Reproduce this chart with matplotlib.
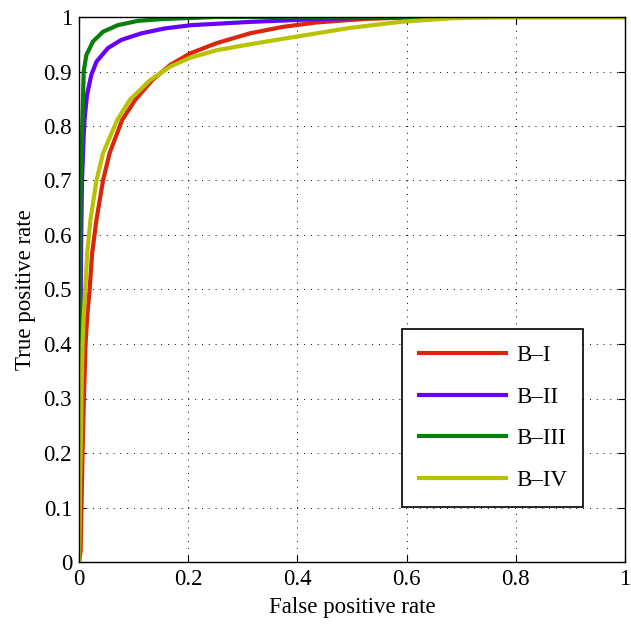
import numpy as np
import matplotlib
matplotlib.use("Agg")
import matplotlib.pyplot as plt
import matplotlib.ticker as ticker

plt.rcParams['font.family'] = ['Liberation Serif', 'DejaVu Serif']

LABELS = ["B\u2013I", "B\u2013II", "B\u2013III", "B\u2013IV"]
COLORS = ["#d9260c", "#6600ff", "#07800a", "#b8c200"]

# ROC points (false positive rate, true positive rate)
fpr_b1 = [0.0, 0.003, 0.0045, 0.0065, 0.009, 0.012, 0.015, 0.0195, 0.024, 0.032, 0.044, 0.056,
          0.079, 0.103, 0.134, 0.167, 0.203, 0.252, 0.313, 0.374, 0.435, 0.496, 0.527, 0.600,
          0.700, 1.0]
tpr_b1 = [0.0, 0.02, 0.10, 0.20, 0.30, 0.40, 0.45, 0.50, 0.566, 0.628, 0.700, 0.750,
          0.811, 0.848, 0.884, 0.912, 0.933, 0.952, 0.970, 0.982, 0.990, 0.9945, 0.9965, 0.999,
          1.0, 1.0]

fpr_b2 = [0.0, 0.001, 0.002, 0.003, 0.0037, 0.0055, 0.0086, 0.0104, 0.0147, 0.0226, 0.032,
          0.053, 0.0775, 0.114, 0.157, 0.205, 0.313, 0.435, 0.550, 0.650, 1.0]
tpr_b2 = [0.0, 0.20, 0.35, 0.45, 0.566, 0.700, 0.783, 0.815, 0.857, 0.894, 0.918,
          0.943, 0.958, 0.970, 0.979, 0.985, 0.991, 0.996, 0.999, 1.0, 1.0]

fpr_b3 = [0.0, 0.001, 0.002, 0.003, 0.0055, 0.0086, 0.0134, 0.0256, 0.044, 0.071, 0.108,
          0.150, 0.250, 1.0]
tpr_b3 = [0.0, 0.30, 0.55, 0.70, 0.783, 0.900, 0.930, 0.955, 0.973, 0.985, 0.993,
          0.996, 1.0, 1.0]

fpr_b4 = [0.0, 0.001, 0.002, 0.003, 0.0045, 0.0065, 0.0086, 0.0116, 0.015, 0.021, 0.032,
          0.044, 0.070, 0.093, 0.130, 0.167, 0.203, 0.252, 0.313, 0.374, 0.435, 0.496, 0.588,
          0.679, 0.770, 1.0]
tpr_b4 = [0.0, 0.04, 0.15, 0.20, 0.30, 0.40, 0.45, 0.50, 0.566, 0.628, 0.700,
          0.750, 0.811, 0.848, 0.884, 0.909, 0.925, 0.939, 0.950, 0.960, 0.970, 0.980, 0.991,
          0.9975, 1.0, 1.0]

curves = [(fpr_b1, tpr_b1), (fpr_b2, tpr_b2), (fpr_b3, tpr_b3), (fpr_b4, tpr_b4)]

fig = plt.figure(figsize=(6.31, 6.25), dpi=100)
ax = fig.add_axes([79 / 631, 63 / 625, 546 / 631, 545 / 625])

for (fx, ty), lab, col in zip(curves, LABELS, COLORS):
    ax.plot(fx, ty, color=col, linewidth=3.0, label=lab, solid_joinstyle='round')

ax.set_xlim(0, 1)
ax.set_ylim(0, 1)
ax.xaxis.set_major_locator(ticker.MultipleLocator(0.2))
ax.yaxis.set_major_locator(ticker.MultipleLocator(0.1))
ax.xaxis.set_major_formatter(ticker.FuncFormatter(lambda v, p: "%g" % round(v, 1)))
ax.yaxis.set_major_formatter(ticker.FuncFormatter(lambda v, p: "%g" % round(v, 1)))
ax.tick_params(axis='both', which='major', direction='in', length=5, width=0.8,
               top=True, right=True, labelsize=16.5)
ax.tick_params(axis='x', pad=5)
ax.tick_params(axis='y', pad=5)
ax.grid(True, color='black', linestyle=(0, (1, 6)), linewidth=0.7)
for s in ax.spines.values():
    s.set_linewidth(1.0)

ax.set_xlabel("False positive rate", fontsize=16.5, labelpad=5)
ax.set_ylabel("True positive rate", fontsize=16.5, labelpad=5)

leg = ax.legend(loc='lower right', bbox_to_anchor=(0.923, 0.101), fontsize=16.5,
                handlelength=3.8, handletextpad=0.45, labelspacing=0.9,
                borderpad=0.7, borderaxespad=0.0, fancybox=False, framealpha=1.0)
leg.get_frame().set_edgecolor('black')
leg.get_frame().set_linewidth(1.2)

fig.savefig("out.png", dpi=100)
